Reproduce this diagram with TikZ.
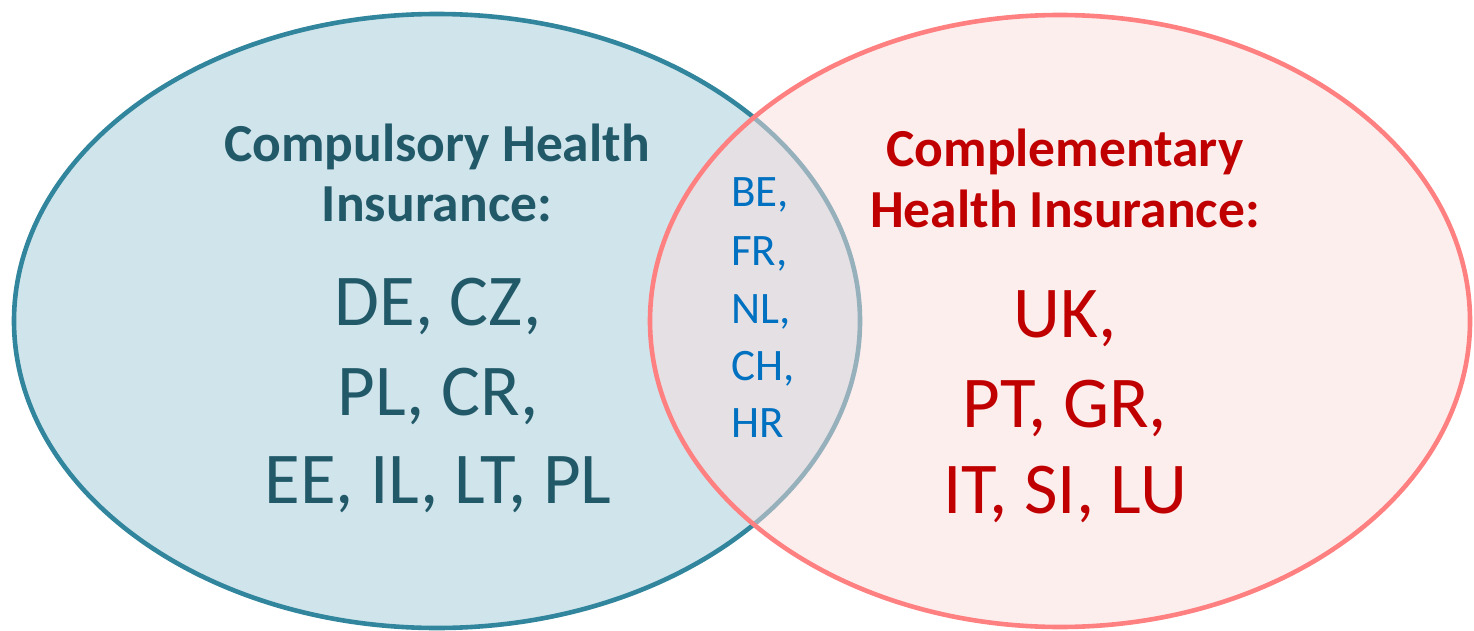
\documentclass[tikz,border=0pt]{standalone}
\usepackage{fontspec}
\setmainfont{Carlito}
\definecolor{lfill}{HTML}{D0E4EC}
\definecolor{lline}{HTML}{31859C}
\definecolor{rfill}{HTML}{FBDDDD}
\definecolor{rline}{HTML}{FF8080}
\definecolor{ltext}{HTML}{215968}
\definecolor{rtext}{HTML}{C00000}
\definecolor{mtext}{HTML}{0070C0}
\tikzset{
  setl/.style={line width=4.6pt},
  titletext/.style={inner sep=0pt, anchor=base, font=\fontsize{53.5}{60}\selectfont\bfseries},
  bigtext/.style={inner sep=0pt, anchor=base, font=\fontsize{73}{84}\selectfont},
  midtext/.style={inner sep=0pt, anchor=base west, font=\fontsize{45}{50}\selectfont, text=mtext},
}
\begin{document}
\begin{tikzpicture}[x=1pt,y=-1pt]
\useasboundingbox (0,0) rectangle (1474,631);
\draw[setl, draw=lline, fill=lfill] (437,321) ellipse [x radius=423, y radius=307];
\fill[rfill, fill opacity=0.5] (1060,321) ellipse [x radius=410, y radius=306];
\draw[setl, draw=rline] (1060,321) ellipse [x radius=410, y radius=306];

\node[titletext, text=ltext] (lt1) at (437,162) {Compulsory Health};
\node[titletext, text=ltext] (lt2) at (437,221) {Insurance:};
\node[bigtext, text=ltext] (lb1) at (438,325) {DE, CZ,};
\node[bigtext, text=ltext] (lb2) at (438,415) {PL, CR,};
\node[bigtext, text=ltext] (lb3) at (438,503) {EE, IL, LT, PL};

\node[titletext, text=rtext] (rt1) at (1065,167) {Complementary};
\node[titletext, text=rtext] (rt2) at (1065,227) {Health Insurance:};
\node[bigtext, text=rtext] (rb1) at (1065,337) {UK,};
\node[bigtext, text=rtext] (rb2) at (1065,427) {PT, GR,};
\node[bigtext, text=rtext] (rb3) at (1065,513) {IT, SI, LU};

\node[midtext] (m1) at (731,207) {BE,};
\node[midtext] (m2) at (731,265) {FR,};
\node[midtext] (m3) at (731,323) {NL,};
\node[midtext] (m4) at (731,380) {CH,};
\node[midtext] (m5) at (731,437) {HR};
\end{tikzpicture}
\end{document}
